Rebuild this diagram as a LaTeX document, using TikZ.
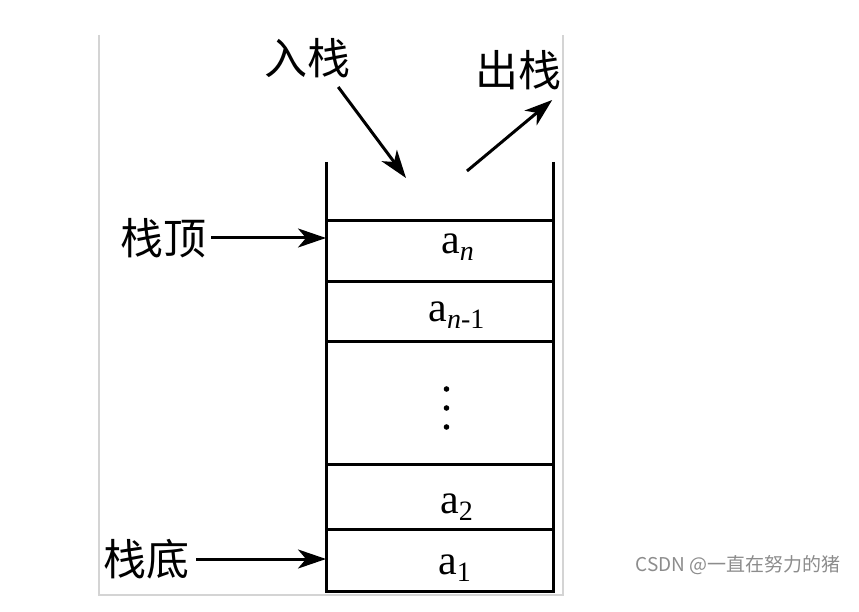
\documentclass[tikz,border=0pt]{standalone}
\usepackage{fontspec}
\setmainfont{Liberation Serif}
\newfontfamily\cjk{Noto Sans CJK SC}
\usetikzlibrary{arrows.meta,positioning}
\definecolor{stkframe}{RGB}{212,212,212}
\definecolor{stkmark}{RGB}{140,140,140}
\tikzset{
  cell/.style={rectangle, draw, line width=3pt, outer sep=0pt, inner sep=0pt, minimum width=227pt},
  wall/.style={line width=3pt},
  sarr/.style={-{Stealth[length=28pt,width=19pt,inset=8pt]}, line width=3pt},
  lbl/.style={font=\cjk\fontsize{43}{43}\selectfont, inner sep=0pt},
  val/.style={font=\fontsize{42}{42}\selectfont, inner sep=0pt},
}
\newcommand{\stsub}[1]{\raisebox{-7pt}{\fontsize{28}{28}\selectfont #1}}

\begin{document}
\begin{tikzpicture}[x=1pt,y=-1pt]
            \useasboundingbox (0,0) rectangle (859,612);
            % frame
            \draw[stkframe, line width=1.6pt] (99,35) -- (99,595) -- (563,595) -- (563,35);
            % stack cells
            \node[cell, minimum height=61pt] (c5) at (439.5,251.5) {};
            \node[cell, minimum height=59pt, below=0pt of c5] (c4) {};
            \node[cell, minimum height=123pt, below=0pt of c4] (c3) {};
            \node[cell, minimum height=65pt, below=0pt of c3] (c2) {};
            \node[cell, minimum height=62pt, below=0pt of c2] (c1) {};
            \coordinate (tl) at (326,162);
            \coordinate (tr) at (553,162);
            \draw[wall] (tl) -- (c5.north west);
            \draw[wall] (tr) -- (c5.north east);
            \node[val] (vn) at ([shift={(18,-4)}]c5.center) {a\stsub{\itshape n}};
            \node[val] (vm) at ([shift={(17,4)}]c4.center) {a\stsub{\itshape n\upshape -1}};
            \foreach \dy in {-19,0,19}
              \fill ([shift={(7,5.5+\dy)}]c3.center) circle (2.8pt);
            \node[val] (v2) at ([shift={(17,11)}]c2.center) {a\stsub{2}};
            \node[val] (v1) at ([shift={(15,8)}]c1.center) {a\stsub{1}};
            % labels and arrows
            \node[lbl] (top) at (163,238) {栈顶};
            \node[lbl] (bot) at (146,559) {栈底};
            \node[lbl] (in) at (307,58) {入栈};
            \node[lbl] (out) at (518,70) {出栈};
            \coordinate (pin) at (406,178);
            \coordinate (pout) at (467,171);
            \draw[sarr, shorten <=5pt] (top.east) -- (top.east -| c5.west);
            \draw[sarr, shorten <=7pt] (bot.east) -- (bot.east -| c1.west);
            \draw[sarr] ([shift={(-12,9)}]in.south east) -- (pin);
            \draw[sarr] (pout) -- ([shift={(-9,10)}]out.south east);
            \node[font=\cjk\fontsize{19}{19}\selectfont, text=stkmark, inner sep=0pt] (mark) at (738,565) {CSDN @一直在努力的猪};
        \end{tikzpicture}
\end{document}
